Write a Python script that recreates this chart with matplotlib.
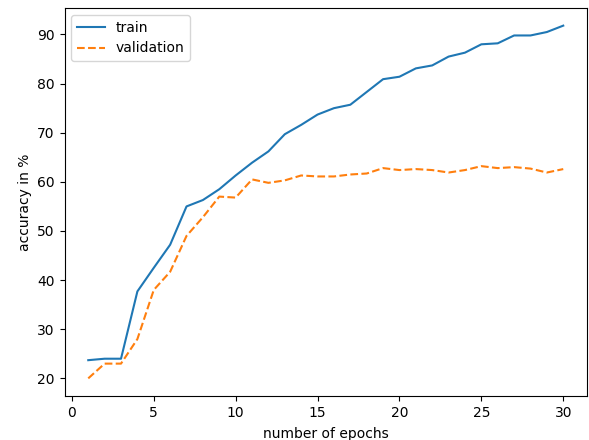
import matplotlib
matplotlib.use('Agg')
import matplotlib.pyplot as plt

# accuracy per epoch
epochs = list(range(1, 31))
train = [23.7, 24.0, 24.0, 37.7, 42.5, 47.2, 55.0, 56.3, 58.5, 61.3,
         63.9, 66.2, 69.7, 71.6, 73.7, 75.0, 75.7, 78.3, 80.9, 81.4,
         83.1, 83.7, 85.5, 86.3, 88.0, 88.2, 89.8, 89.8, 90.5, 91.8]
validation = [20.0, 23.0, 23.0, 28.0, 38.0, 41.7, 49.0, 52.8, 57.0, 56.8,
              60.5, 59.8, 60.3, 61.3, 61.1, 61.1, 61.5, 61.7, 62.8, 62.4,
              62.6, 62.4, 61.9, 62.4, 63.2, 62.8, 63.0, 62.7, 61.9, 62.6]

fig = plt.figure(figsize=(5.89, 4.4), dpi=100)
ax = fig.add_axes([64.5 / 589, 44 / 440, 522.5 / 589, 388 / 440])
ax.plot(epochs, train, label='train')
ax.plot(epochs, validation, '--', label='validation')
ax.set_xlabel('number of epochs', labelpad=5.5)
ax.set_ylabel('accuracy in %')
ax.legend(loc='upper left')

fig.savefig('out.png', dpi=100)
